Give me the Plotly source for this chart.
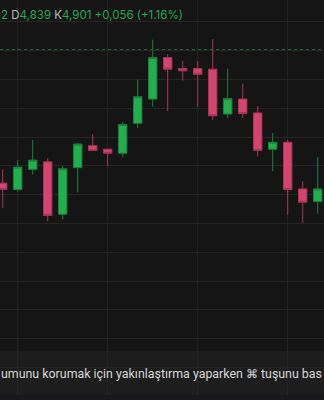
import plotly.graph_objects as go

# Candle index (x) and OHLC prices
idx = list(range(22))
opens = [4.820, 4.809, 4.844, 4.857, 4.766, 4.847, 4.885, 4.879, 4.872, 4.924, 4.966,
         5.038, 5.019, 5.019, 5.018, 4.940, 4.966, 4.942, 4.879, 4.891, 4.810, 4.788]
highs = [4.844, 4.860, 4.895, 4.863, 4.850, 4.889, 4.905, 4.879, 4.926, 5.000, 5.069,
         5.044, 5.032, 5.032, 5.070, 5.019, 4.993, 4.954, 4.907, 4.895, 4.823, 4.865]
lows = [4.777, 4.805, 4.835, 4.754, 4.757, 4.804, 4.876, 4.850, 4.865, 4.916, 4.953,
        4.945, 4.998, 4.953, 4.930, 4.933, 4.933, 4.866, 4.841, 4.765, 4.751, 4.767]
closes = [4.809, 4.848, 4.860, 4.764, 4.845, 4.888, 4.877, 4.872, 4.922, 4.970, 5.038,
          5.018, 5.015, 5.009, 4.937, 4.967, 4.941, 4.877, 4.891, 4.809, 4.787, 4.810]
last_price = 5.052

header_parts = [("2 ", "#26a552"), ("D", "#b8b8b8"), ("4,839 ", "#26a552"),
                ("K", "#b8b8b8"), ("4,901 ", "#26a552"), ("+0,056 (+1.16%)", "#26a552")]
toast_text = "umunu korumak için yakınlaştırma yaparken ⌘ tuşunu bas"

BG = "#151515"
GRID = "#242424"

fig = go.Figure()
fig.add_trace(go.Candlestick(
    x=idx, open=opens, high=highs, low=lows, close=closes,
    increasing=dict(fillcolor="#22ad4e", line=dict(color="#1b7f3c", width=1)),
    decreasing=dict(fillcolor="#d2456f", line=dict(color="#a9345a", width=1)),
    whiskerwidth=0,
    hoverinfo="skip",
    showlegend=False,
))

fig.add_shape(type="line", xref="paper", x0=0, x1=1, yref="y", y0=last_price, y1=last_price,
              line=dict(color="#1f6a37", width=1, dash="dot"))

fig.add_shape(type="rect", xref="paper", yref="paper", x0=0, x1=1,
              y0=1 - 395 / 400, y1=1 - 351 / 400,
              fillcolor="rgba(32,32,32,0.75)", line=dict(width=0), layer="below")
fig.add_shape(type="rect", xref="paper", yref="paper", x0=0, x1=1,
              y0=0, y1=1 - 395 / 400,
              fillcolor="#181a1f", line=dict(width=0), layer="above")

header_html = "".join(f'<span style="color:{c}">{t}</span>' for t, c in header_parts)
fig.add_annotation(xref="paper", yref="paper", x=0, y=1 - 15 / 400, xanchor="left",
                   yanchor="middle", text=header_html, showarrow=False,
                   font=dict(family="Inter", size=11.5, color="#26a552"), xshift=-1)
fig.add_annotation(xref="paper", yref="paper", x=0, y=1 - 373 / 400, xanchor="left",
                   yanchor="middle", text=toast_text, showarrow=False,
                   font=dict(family="Roboto", size=12.4, color="#d6d6d6"), xshift=-1)

fig.update_layout(
    width=324, height=400,
    margin=dict(l=0, r=0, t=0, b=0),
    paper_bgcolor=BG, plot_bgcolor=BG,
    boxgap=0.2,
    xaxis=dict(range=[-0.18, 21.42], showgrid=True, gridcolor=GRID, gridwidth=1,
               tick0=1, dtick=6, showticklabels=False, zeroline=False,
               rangeslider=dict(visible=False), fixedrange=True),
    yaxis=dict(range=[4.44358, 5.13802], showgrid=True, gridcolor=GRID, gridwidth=1,
               tick0=4.8, dtick=0.05, showticklabels=False, zeroline=False, fixedrange=True),
)

fig.write_html("out.html", config={"displayModeBar": False})
